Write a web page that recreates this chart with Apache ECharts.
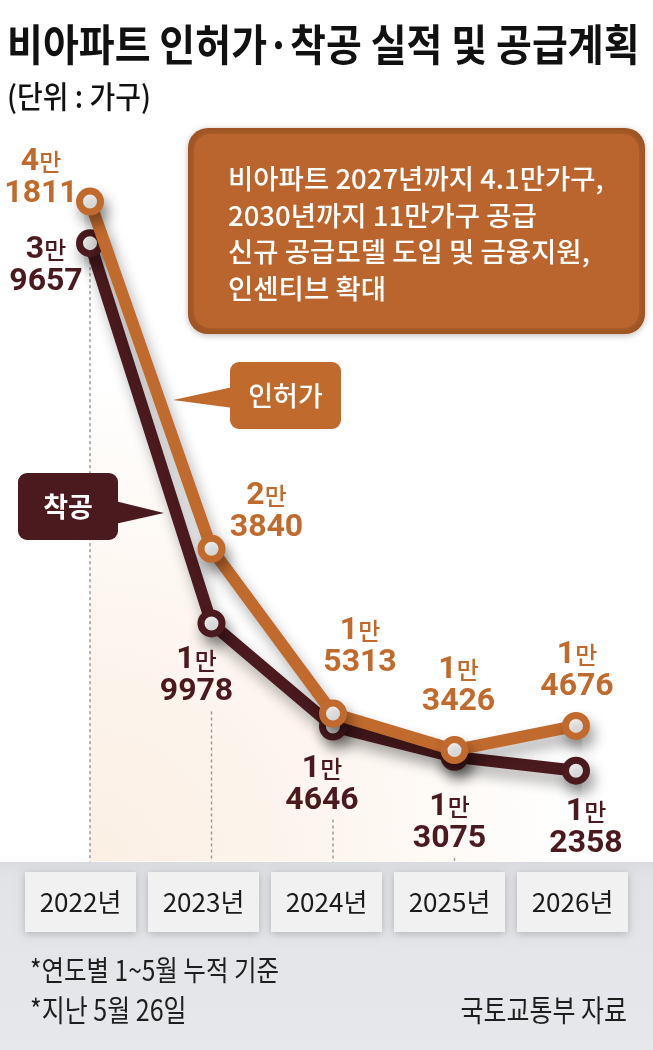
<!DOCTYPE html>
<html><head><meta charset="utf-8">
<script src="https://cdn.jsdelivr.net/npm/echarts@6/dist/echarts.min.js"></script>
<style>html,body{margin:0;padding:0;background:#fff;}#c{width:653px;height:1050px;}</style>
</head><body><div id="c"></div>
<script>
// ---- data ----
const years = ['2022년', '2023년', '2024년', '2025년', '2026년'];
const permits = [41811, 23840, 15313, 13426, 14676];   // 인허가
const starts = [39657, 19978, 14646, 13075, 12358];    // 착공

// ---- style config ----
const ORANGE = '#c06a2d';
const BROWN = '#4a1a1e';
const KR = '"Noto Sans CJK KR", "Noto Sans", sans-serif';
const NUM = 'Roboto, "Noto Sans CJK KR", sans-serif';
const Y_MIN = 7650, Y_MAX = 45000;
const LABEL_HALF_H = 32, LABEL_HALF_W = 42;
const permitLabelOffsets = [[-49, -24], [55, -37], [27, -67], [4, -64], [1, -55]];
const startLabelOffsets = [[-44, 23], [-15, 53], [-11, 58], [-5, 66], [10, 57]];

function fmt(p) {
  const v = p.value;
  const man = Math.floor(v / 10000);
  const rest = String(v % 10000).padStart(4, '0');
  return '{a|' + man + '}{b|만}\n{c|' + rest + '}';
}
function rich(color) {
  return {
    a: { fontSize: 32, fontFamily: NUM, fontWeight: 'bold', lineHeight: 32, color: color },
    b: { fontSize: 24, fontFamily: KR, fontWeight: 500, lineHeight: 32, color: color },
    c: { fontSize: 32, fontFamily: NUM, fontWeight: 'bold', lineHeight: 32, color: color }
  };
}
const lineShadow = { shadowBlur: 14, shadowColor: 'rgba(0,0,0,0.32)', shadowOffsetX: 4, shadowOffsetY: 9 };

const chart = echarts.init(document.getElementById('c'), null, { renderer: 'canvas' });
chart.setOption({
  animation: false,
  backgroundColor: '#ffffff',
  grid: [
    { left: 90, right: 77, top: 139.9, bottom: 188.3 },
    { left: 19, right: 19, top: 850, height: 1 }
  ],
  xAxis: [
    { type: 'category', gridIndex: 0, data: years, boundaryGap: false, show: false },
    {
      type: 'category', gridIndex: 1, data: years, boundaryGap: true, z: 5,
      axisLine: { show: false }, axisTick: { show: false }, splitLine: { show: false },
      axisLabel: {
        interval: 0, margin: 21, width: 111, lineHeight: 60, align: 'center',
        fontSize: 26, fontFamily: KR, color: '#1b1b1b',
        backgroundColor: '#f1f1f1',
        shadowBlur: 8, shadowColor: 'rgba(0,0,0,0.22)', shadowOffsetY: 2
      }
    }
  ],
  yAxis: [
    { type: 'value', gridIndex: 0, min: Y_MIN, max: Y_MAX, show: false },
    { type: 'value', gridIndex: 1, show: false }
  ],
  series: [
    {
      name: 'area', type: 'line', xAxisIndex: 0, yAxisIndex: 0, z: 1, silent: true,
      data: starts, symbol: 'none', lineStyle: { width: 0 },
      areaStyle: {
        origin: 'start', opacity: 1,
        color: {
          type: 'radial', x: 0, y: 1, r: 1,
          colorStops: [
            { offset: 0, color: '#fbefe3' },
            { offset: 0.5, color: '#fdf6ef' },
            { offset: 0.8, color: '#fefbf8' },
            { offset: 1, color: '#ffffff' }
          ]
        }
      },
      emphasis: { disabled: true }
    },
    {
      name: 'guides', type: 'custom', xAxisIndex: 0, yAxisIndex: 0, z: 2, silent: true,
      data: starts.map((v, i) => [i, v]),
      encode: { x: 0, y: 1 },
      renderItem: function (params, api) {
        const top = api.coord([api.value(0), api.value(1)]);
        const bottom = api.coord([api.value(0), Y_MIN]);
        const off = startLabelOffsets[params.dataIndex];
        let y1 = top[1];
        if (Math.abs(off[0]) < LABEL_HALF_W) y1 = top[1] + off[1] + LABEL_HALF_H + 3;
        if (y1 >= bottom[1]) return null;
        return {
          type: 'line',
          shape: { x1: top[0], y1: y1, x2: bottom[0], y2: bottom[1] },
          style: { stroke: '#9a9a9a', lineWidth: 1.5, lineDash: [3, 3] }
        };
      }
    },
    {
      name: '착공', type: 'line', xAxisIndex: 0, yAxisIndex: 0, z: 3,
      data: starts.map((v, i) => ({ value: v, label: { offset: startLabelOffsets[i] } })),
      symbol: 'circle', symbolSize: 21,
      lineStyle: Object.assign({ width: 12, color: BROWN, join: 'round', cap: 'round' }, lineShadow),
      itemStyle: Object.assign({ color: '#ffffff', borderColor: BROWN, borderWidth: 7 }, lineShadow),
      label: { show: true, position: 'inside', align: 'center', verticalAlign: 'middle', formatter: fmt, rich: rich(BROWN) },
      emphasis: { disabled: true }
    },
    {
      name: '인허가', type: 'line', xAxisIndex: 0, yAxisIndex: 0, z: 4,
      data: permits.map((v, i) => ({ value: v, label: { offset: permitLabelOffsets[i] } })),
      symbol: 'circle', symbolSize: 21,
      lineStyle: Object.assign({ width: 12, color: ORANGE, join: 'round', cap: 'round' }, lineShadow),
      itemStyle: Object.assign({ color: '#ffffff', borderColor: ORANGE, borderWidth: 7 }, lineShadow),
      label: { show: true, position: 'inside', align: 'center', verticalAlign: 'middle', formatter: fmt, rich: rich(ORANGE) },
      emphasis: { disabled: true }
    }
  ],
  graphic: [
    // footer band
    {
      type: 'rect', z: -1, silent: true,
      shape: { x: 0, y: 862, width: 653, height: 188 },
      style: {
        fill: {
          type: 'linear', x: 0, y: 0, x2: 0, y2: 1,
          colorStops: [{ offset: 0, color: '#d9dbde' }, { offset: 0.08, color: '#e1e3e6' }, { offset: 1, color: '#e6e8eb' }]
        }
      }
    },
    // title
    {
      type: 'text', x: 7, y: 45, scaleY: 1.1, z: 10,
      style: { text: '비아파트 인허가·착공 실적 및 공급계획', fontSize: 39, fontWeight: 'bold', fontFamily: KR, fill: '#111111', align: 'left', verticalAlign: 'middle' }
    },
    {
      type: 'text', x: 7, y: 97, scaleY: 1.08, z: 10,
      style: { text: '(단위 : 가구)', fontSize: 28, fontWeight: 500, fontFamily: KR, fill: '#111111', align: 'left', verticalAlign: 'middle' }
    },
    // callout box
    {
      type: 'rect', z: 10, shape: { x: 188, y: 128, width: 457, height: 206, r: 20 },
      style: { fill: '#9b5223', shadowBlur: 6, shadowColor: 'rgba(0,0,0,0.2)', shadowOffsetY: 2 }
    },
    {
      type: 'rect', z: 11, shape: { x: 194, y: 134, width: 445, height: 194, r: 16 },
      style: { fill: '#b9652d', shadowBlur: 10, shadowColor: '#b9652d' }
    },
    {
      type: 'text', x: 228, y: 160.7, z: 12,
      style: {
        text: '비아파트 2027년까지 4.1만가구,\n2030년까지 11만가구 공급\n신규 공급모델 도입 및 금융지원,\n인센티브 확대',
        fontSize: 27.5, fontWeight: 500, fontFamily: KR, fill: '#ffffff', lineHeight: 36.5, align: 'left', verticalAlign: 'top'
      }
    },
    // legend: 인허가
    { type: 'polygon', z: 10, shape: { points: [[233, 387], [173, 400], [233, 408]] }, style: { fill: ORANGE } },
    { type: 'rect', z: 10, shape: { x: 230, y: 362, width: 111, height: 67, r: 9 }, style: { fill: ORANGE } },
    {
      type: 'text', x: 285.5, y: 396, z: 11,
      style: { text: '인허가', fontSize: 27, fontWeight: 500, fontFamily: KR, fill: '#ffffff', align: 'center', verticalAlign: 'middle' }
    },
    // legend: 착공
    { type: 'polygon', z: 10, shape: { points: [[115, 501], [164, 513], [115, 524]] }, style: { fill: BROWN } },
    { type: 'rect', z: 10, shape: { x: 18, y: 473, width: 100, height: 67, r: 9 }, style: { fill: BROWN } },
    {
      type: 'text', x: 68, y: 507, z: 11,
      style: { text: '착공', fontSize: 27, fontWeight: 'bold', fontFamily: KR, fill: '#ffffff', align: 'center', verticalAlign: 'middle' }
    },
    // footnotes
    {
      type: 'text', x: 30, y: 970, scaleY: 1.18, z: 10,
      style: { text: '*연도별 1~5월 누적 기준', fontSize: 24.5, fontFamily: KR, fill: '#1e1e1e', align: 'left', verticalAlign: 'middle' }
    },
    {
      type: 'text', x: 30, y: 1010, scaleY: 1.18, z: 10,
      style: { text: '*지난 5월 26일', fontSize: 25, fontFamily: KR, fill: '#1e1e1e', align: 'left', verticalAlign: 'middle' }
    },
    {
      type: 'text', x: 627, y: 1010, scaleY: 1.18, z: 10,
      style: { text: '국토교통부 자료', fontSize: 25, fontFamily: KR, fill: '#1e1e1e', align: 'right', verticalAlign: 'middle' }
    }
  ]
});
</script>
</body></html>
